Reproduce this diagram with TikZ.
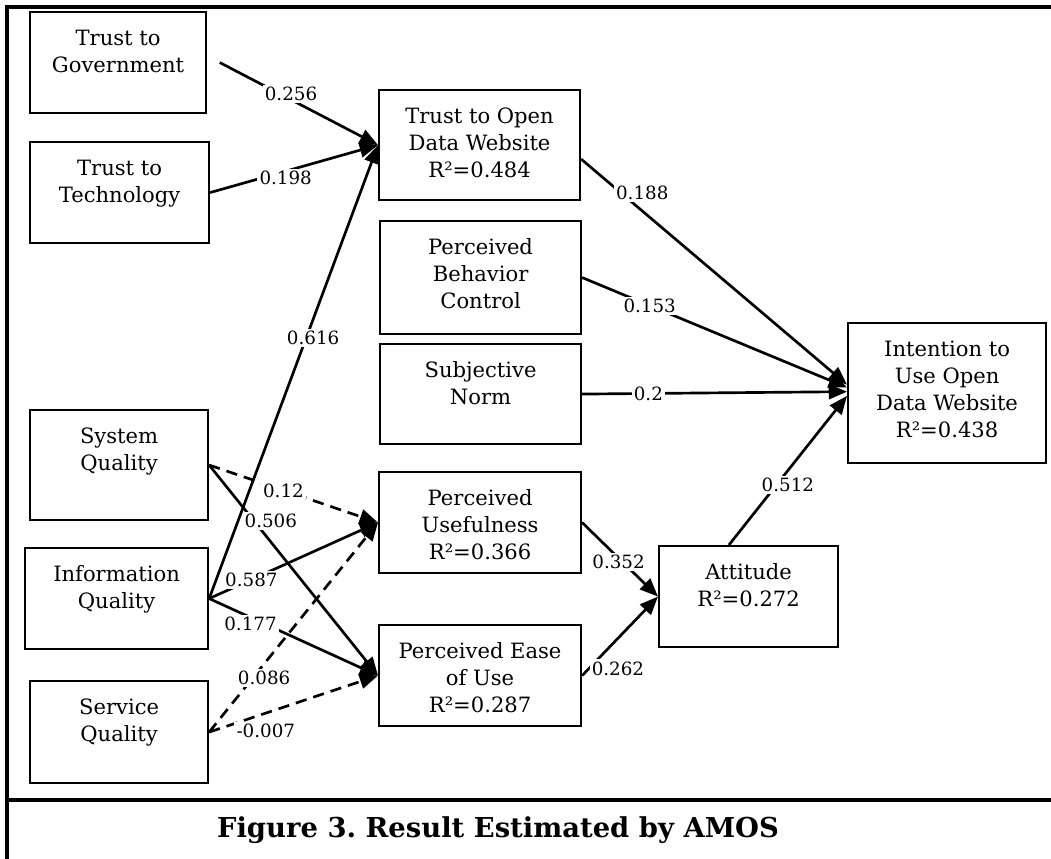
\documentclass[tikz,border=0pt]{standalone}
\usepackage{fontspec}
\setmainfont{DejaVu Serif}
\usetikzlibrary{arrows.meta}
\newcommand{\boxtxt}[3]{\parbox[c][#2][t]{#1}{\centering\vspace*{10pt}\strut#3}}
\begin{document}
\begin{tikzpicture}[x=0.025cm,y=-0.025cm,
  box/.style={draw,line width=1.5pt,inner sep=0pt,anchor=north west,font=\fontsize{15}{19.2}\selectfont},
  conn/.style={line width=1.9pt,-{Triangle[length=13pt,width=10.5pt]}},
  dconn/.style={conn,dash pattern=on 8pt off 5pt},
  lbl/.style={fill=white,inner sep=1.5pt,font=\fontsize{13}{15}\selectfont}]
  \useasboundingbox (0,0) rectangle (1051,859);
  % frame
  \draw[line width=2.3pt] (1051,7) -- (7,7) -- (7,859);
  \draw[line width=2.3pt] (7,800) -- (1051,800);
  % left column
  \node[box] (tog) at (29,11) {\boxtxt{4.4cm}{2.525cm}{Trust to\\Government}};
  \node[box] (tot) at (29,141) {\boxtxt{4.475cm}{2.525cm}{Trust to\\Technology}};
  \node[box] (sysq) at (29,409) {\boxtxt{4.45cm}{2.75cm}{System\\Quality}};
  \node[box] (infq) at (24,547) {\boxtxt{4.575cm}{2.525cm}{Information\\Quality}};
  \node[box] (serq) at (29,680) {\boxtxt{4.45cm}{2.55cm}{Service\\Quality}};
  % middle column
  \node[box] (todw) at (378,89) {\boxtxt{5.025cm}{2.75cm}{Trust to Open\\Data Website\\R²=0.484}};
  \node[box] (pbc) at (379,220) {\boxtxt{5.025cm}{2.825cm}{Perceived\\Behavior\\Control}};
  \node[box] (sn) at (379,343) {\boxtxt{5.025cm}{2.5cm}{Subjective\\Norm}};
  \node[box] (pu) at (378,471) {\boxtxt{5.05cm}{2.525cm}{Perceived\\Usefulness\\R²=0.366}};
  \node[box] (peou) at (378,624) {\boxtxt{5.05cm}{2.525cm}{Perceived Ease\\of Use\\R²=0.287}};
  % right column
  \node[box] (att) at (658,545) {\boxtxt{4.475cm}{2.525cm}{Attitude\\R²=0.272}};
  \node[box] (int) at (847,322) {\boxtxt{4.95cm}{3.5cm}{Intention to\\Use Open\\Data Website\\R²=0.438}};
  % caption
  \node[font=\fontsize{19.5}{23}\selectfont\bfseries] (cap) at (498,830) {Figure 3.\ Result Estimated by AMOS};
  % paths
  \draw[conn] ([xshift=9pt]tog.east) -- node[lbl,pos=0.45,yshift=4pt] (l256) {0.256} (todw.west);
  \draw[conn] (tot.east) -- node[lbl,pos=0.45,yshift=-5pt] (l198) {0.198} (todw.west);
  \draw[conn] (infq.east) -- node[lbl,pos=0.574,xshift=5pt] (l616) {0.616} (todw.west);
  \draw[dconn] (sysq.east) -- node[lbl,pos=0.44] (l12) {0.12} (pu.west);
  \draw[conn] (sysq.east) -- node[lbl,pos=0.307,xshift=7pt,yshift=6pt] (l506) {0.506} (peou.west);
  \draw[conn] (infq.east) -- node[lbl,pos=0.25] (l587) {0.587} (pu.west);
  \draw[conn] (infq.east) -- node[lbl,pos=0.245,yshift=-4.5pt] (l177) {0.177} (peou.west);
  \draw[dconn] (serq.east) -- node[lbl,pos=0.284,xshift=5pt,yshift=-4pt] (l086) {0.086} (pu.west);
  \draw[dconn] (serq.east) -- node[lbl,pos=0.302,xshift=4pt,yshift=-11.5pt] (l007) {-0.007} (peou.west);
  \draw[conn] ([yshift=-10pt]todw.east) -- node[lbl,pos=0.198,xshift=6pt,yshift=7.5pt] (l188) {0.188} ([yshift=6pt]int.west);
  \draw[conn] (pbc.east) -- node[lbl,pos=0.255] (l153) {0.153} ([yshift=4pt]int.west);
  \draw[conn] (sn.east) -- node[lbl,pos=0.25] (l2) {0.2} ([yshift=1pt]int.west);
  \draw[conn] ([xshift=-14pt]att.north) -- node[lbl,pos=0.44,xshift=5pt,yshift=-4pt] (l512) {0.512} ([yshift=-2pt]int.west);
  \draw[conn] (pu.east) -- node[lbl,pos=0.48,yshift=-3pt] (l352) {0.352} (att.west);
  \draw[conn] (peou.east) -- node[lbl,pos=0.277,xshift=10.5pt,yshift=-10.5pt] (l262) {0.262} (att.west);
\end{tikzpicture}
\end{document}
